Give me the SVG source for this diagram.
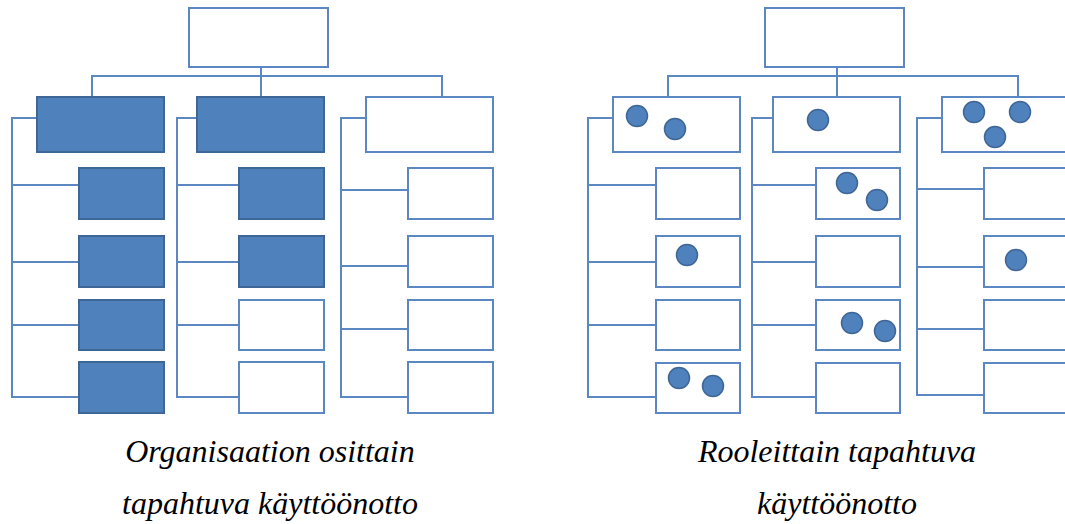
<svg xmlns="http://www.w3.org/2000/svg" width="1065" height="524" viewBox="0 0 1065 524">
<style>
.w{fill:#fff;stroke:#5B88C2;stroke-width:2}
.d{fill:#4F81BD;stroke:#3E6696;stroke-width:2}
.c{fill:#4F81BD;stroke:#3E6696;stroke-width:1.5}
.ln{fill:none;stroke:#5B88C2;stroke-width:2}
.t{font-family:"Liberation Serif","Times New Roman",serif;font-style:italic;font-size:32px;fill:#000;text-anchor:middle}
</style>
<rect width="1065" height="524" fill="#fff"/>
<g id="connectors">
<path class="ln" d="M92,97 V76 H442 V97 M261,67 V97"/>
<path class="ln" d="M37,118 H12 V397 H79 M12,185 H79 M12,262 H79 M12,325 H79"/>
<path class="ln" d="M197,118 H177 V397 H239 M177,185 H239 M177,262 H239 M177,325 H239"/>
<path class="ln" d="M366,118 H341 V397 H408 M341,190 H408 M341,266 H408 M341,329 H408"/>
<path class="ln" d="M668,97 V76 H1018 V97 M837,67 V97"/>
<path class="ln" d="M613,118 H588 V397 H656 M588,185 H656 M588,262 H656 M588,325 H656"/>
<path class="ln" d="M773,118 H752 V397 H816 M752,185 H816 M752,262 H816 M752,325 H816"/>
<path class="ln" d="M942,118 H917 V395 H984 M917,189 H984 M917,267 H984 M917,329 H984"/>
</g>
<g id="left-top"><rect class="w" x="189" y="8" width="139" height="59"/></g>
<g id="left-a"><rect class="d" x="37" y="97" width="127" height="55"/></g>
<g id="left-b"><rect class="d" x="197" y="97" width="127" height="55"/></g>
<g id="left-c"><rect class="w" x="366" y="97" width="127" height="55"/></g>
<g id="left-a1"><rect class="d" x="79" y="168" width="85" height="51"/></g>
<g id="left-a2"><rect class="d" x="79" y="236" width="85" height="51"/></g>
<g id="left-a3"><rect class="d" x="79" y="300" width="85" height="50"/></g>
<g id="left-a4"><rect class="d" x="79" y="362" width="85" height="51"/></g>
<g id="left-b1"><rect class="d" x="239" y="168" width="85" height="51"/></g>
<g id="left-b2"><rect class="d" x="239" y="236" width="85" height="51"/></g>
<g id="left-b3"><rect class="w" x="239" y="300" width="85" height="50"/></g>
<g id="left-b4"><rect class="w" x="239" y="362" width="85" height="51"/></g>
<g id="left-c1"><rect class="w" x="408" y="168" width="85" height="51"/></g>
<g id="left-c2"><rect class="w" x="408" y="236" width="85" height="51"/></g>
<g id="left-c3"><rect class="w" x="408" y="300" width="85" height="50"/></g>
<g id="left-c4"><rect class="w" x="408" y="362" width="85" height="51"/></g>
<g id="right-top"><rect class="w" x="765" y="8" width="139" height="59"/></g>
<g id="right-a"><rect class="w" x="613" y="97" width="127" height="55"/><circle class="c" cx="637" cy="116" r="10.5"/><circle class="c" cx="675" cy="129" r="10.5"/></g>
<g id="right-b"><rect class="w" x="773" y="97" width="127" height="55"/><circle class="c" cx="818" cy="120" r="10.5"/></g>
<g id="right-c"><rect class="w" x="942" y="97" width="127" height="55"/><circle class="c" cx="974" cy="112" r="10.5"/><circle class="c" cx="1020" cy="112" r="10.5"/><circle class="c" cx="995" cy="137" r="10.5"/></g>
<g id="right-a1"><rect class="w" x="656" y="168" width="84" height="51"/></g>
<g id="right-a2"><rect class="w" x="656" y="236" width="84" height="51"/><circle class="c" cx="687" cy="255" r="10.5"/></g>
<g id="right-a3"><rect class="w" x="656" y="300" width="84" height="50"/></g>
<g id="right-a4"><rect class="w" x="656" y="363" width="84" height="50"/><circle class="c" cx="679" cy="378" r="10.5"/><circle class="c" cx="713" cy="386" r="10.5"/></g>
<g id="right-b1"><rect class="w" x="816" y="168" width="84" height="51"/><circle class="c" cx="847" cy="183" r="10.5"/><circle class="c" cx="877" cy="200" r="10.5"/></g>
<g id="right-b2"><rect class="w" x="816" y="236" width="84" height="51"/></g>
<g id="right-b3"><rect class="w" x="816" y="300" width="84" height="50"/><circle class="c" cx="852" cy="323" r="10.5"/><circle class="c" cx="885" cy="331" r="10.5"/></g>
<g id="right-b4"><rect class="w" x="816" y="363" width="84" height="50"/></g>
<g id="right-c1"><rect class="w" x="984" y="168" width="84" height="51"/></g>
<g id="right-c2"><rect class="w" x="984" y="236" width="84" height="51"/><circle class="c" cx="1016" cy="260" r="10.5"/></g>
<g id="right-c3"><rect class="w" x="984" y="300" width="84" height="50"/></g>
<g id="right-c4"><rect class="w" x="984" y="363" width="84" height="50"/></g>
<g id="captions">
<text class="t" x="270" y="462">Organisaation osittain</text>
<text class="t" x="270" y="514">tapahtuva käyttöönotto</text>
<text class="t" x="837" y="462">Rooleittain tapahtuva</text>
<text class="t" x="837" y="514">käyttöönotto</text>
</g>
</svg>
